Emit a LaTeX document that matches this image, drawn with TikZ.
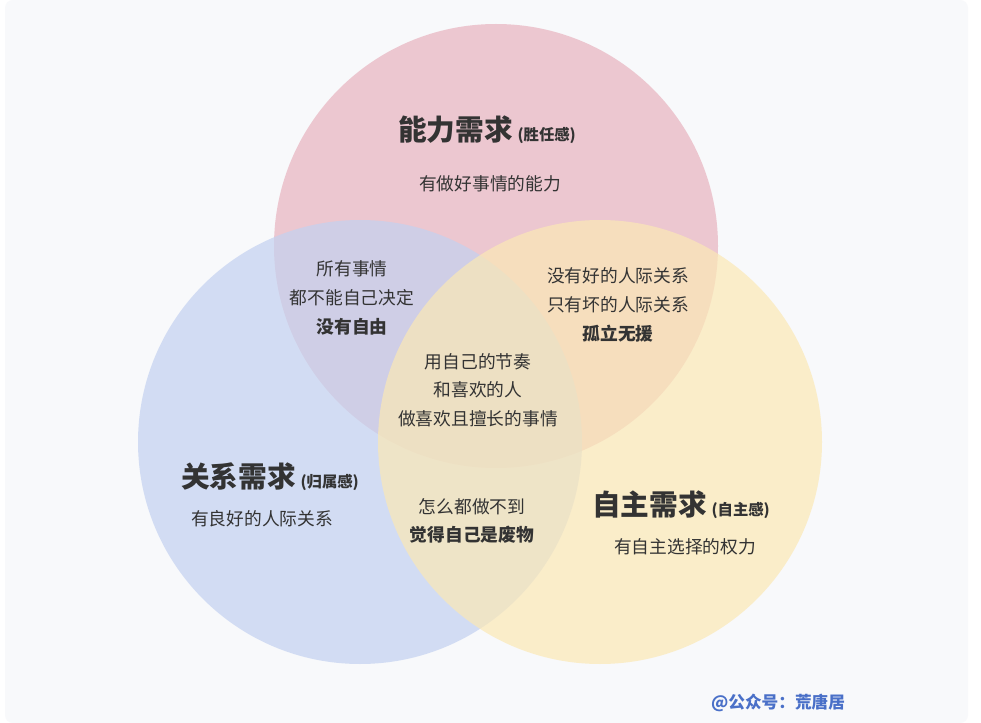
\documentclass[tikz,border=0pt]{standalone}
\usepackage{fontspec}
\newfontfamily\cjk{Noto Sans CJK SC}
\definecolor{bgpanel}{HTML}{F8F9FB}
\definecolor{needpink}{HTML}{E8B3BE}
\definecolor{needblue}{HTML}{C3D1F0}
\definecolor{needyellow}{HTML}{FBE8B5}
\definecolor{inkgray}{HTML}{333333}
\definecolor{signblue}{HTML}{4A70C8}
\begin{document}
\begin{tikzpicture}[x=0.75pt,y=-0.75pt,
  every node/.style={font=\cjk, text=inkgray, align=center, inner sep=0pt},
  need/.style={circle, minimum size=333pt, fill opacity=0.7, draw=none},
  title/.style={font=\cjk\fontsize{21.5}{24}\bfseries},
  body/.style={font=\cjk\fontsize{13.3}{21.5}\selectfont}]
  \useasboundingbox (0,0) rectangle (981,723);
  \fill[white] (0,0) rectangle (981,723);
  \fill[bgpanel, rounded corners=6pt] (5,0) rectangle (968,723);
  % the three needs
  \node[need, fill=needpink]   (competence) at (496,246) {};
  \node[need, fill=needblue]   (relation)   at (360,442) {};
  \node[need, fill=needyellow] (autonomy)   at (600,442) {};
  % titles
  \node[title] (compTitle) at (487,130) {能力需求\,{\fontsize{11.5}{13}\selectfont (胜任感)}};
  \node[body]  (compText)  at (490,184) {有做好事情的能力};
  \node[title] (relTitle)  at (270,477) {关系需求\,{\fontsize{11.5}{13}\selectfont (归属感)}};
  \node[body]  (relText)   at (262,519) {有良好的人际关系};
  \node[title] (autoTitle) at (681,505) {自主需求\,{\fontsize{11.5}{13}\selectfont (自主感)}};
  \node[body]  (autoText)  at (685,547) {有自主选择的权力};
  % overlaps
  \node[body] (noFreedom) at (352,298) {所有事情\\都不能自己决定\\\textbf{没有自由}};
  \node[body] (isolated)  at (618,305) {没有好的人际关系\\只有坏的人际关系\\\textbf{孤立无援}};
  \node[body] (useless)   at (472,521) {怎么都做不到\\\textbf{觉得自己是废物}};
  \node[body] (center)    at (478,390) {用自己的节奏\\和喜欢的人\\做喜欢且擅长的事情};
  % signature
  \node[font=\cjk\fontsize{12.5}{14}\bfseries, text=signblue] (sign) at (778,703) {@公众号：荒唐居};
\end{tikzpicture}
\end{document}
